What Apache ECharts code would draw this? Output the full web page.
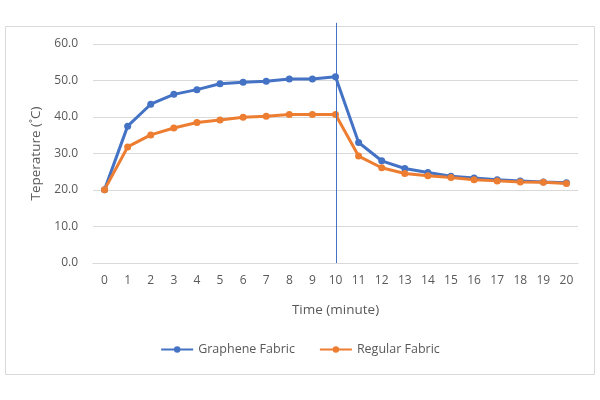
<!DOCTYPE html>
<html><head><meta charset="utf-8">
<script src="https://cdn.jsdelivr.net/npm/echarts@6/dist/echarts.min.js"></script>
<style>html,body{margin:0;padding:0;background:#fff}#c{width:600px;height:400px}</style>
</head><body><div id="c"></div>
<script>
const categories = ['0','1','2','3','4','5','6','7','8','9','10','11','12','13','14','15','16','17','18','19','20'];
const grapheneFabric = [20.1,37.5,43.5,46.2,47.5,49.1,49.5,49.8,50.4,50.4,51.0,33.0,28.0,25.9,24.8,23.8,23.3,22.8,22.5,22.2,22.0];
const regularFabric = [20.1,31.8,35.1,37.0,38.5,39.2,39.9,40.2,40.7,40.7,40.7,29.3,26.1,24.5,23.9,23.4,22.8,22.5,22.2,22.1,21.8];
const markerCategory = '10';
const markerTopValue = 65.8;

const font = '"Open Sans", Lato, sans-serif';
const txt = '#595959';
const chart = echarts.init(document.getElementById('c'));
const option = {
  animation: false,
  textStyle: {fontFamily: font},
  grid: {left: 93, right: 22, top: 44, bottom: 137, containLabel: false},
  legend: {
    bottom: 39, left: 'center', itemWidth: 32, itemHeight: 8, itemGap: 24,
    textStyle: {color: txt, fontSize: 12.5, fontFamily: font},
    data: ['Graphene Fabric', 'Regular Fabric']
  },
  xAxis: {
    type: 'category', data: categories, boundaryGap: true,
    name: 'Time (minute)', nameLocation: 'middle', nameGap: 40,
    nameTextStyle: {color: txt, fontSize: 13.5, fontFamily: font},
    axisLine: {lineStyle: {color: '#d9d9d9'}}, axisTick: {show: false},
    axisLabel: {color: txt, fontSize: 12, margin: 12, fontFamily: font, interval: 0}
  },
  yAxis: {
    type: 'value', min: 0, max: 60, interval: 10,
    name: 'Teperature (˚C)', nameLocation: 'middle', nameGap: 50,
    nameTextStyle: {color: txt, fontSize: 13.5, fontFamily: font},
    axisLine: {show: false}, axisTick: {show: false},
    axisLabel: {color: txt, fontSize: 12, margin: 15, fontFamily: font, formatter: v => v.toFixed(1)},
    splitLine: {lineStyle: {color: '#d9d9d9'}}
  },
  series: [
    {name: 'Graphene Fabric', type: 'line', data: grapheneFabric, symbol: 'circle', symbolSize: 7,
     itemStyle: {color: '#4472C4'}, lineStyle: {width: 3, color: '#4472C4'}},
    {name: 'Regular Fabric', type: 'line', data: regularFabric, symbol: 'circle', symbolSize: 7,
     itemStyle: {color: '#ED7D31'}, lineStyle: {width: 3, color: '#ED7D31'}}
  ]
};
chart.setOption(option);
const px = chart.convertToPixel({xAxisIndex: 0}, markerCategory);
const yTop = chart.convertToPixel({yAxisIndex: 0}, markerTopValue);
const yBot = chart.convertToPixel({yAxisIndex: 0}, 0);
chart.setOption({
  graphic: [
    {type: 'rect', z: -10, silent: true, shape: {x: 5.5, y: 26.5, width: 589, height: 348},
     style: {fill: 'none', stroke: '#d9d9d9', lineWidth: 1}},
    {type: 'line', z: 10, silent: true, shape: {x1: Math.round(px) + 0.5, y1: yTop, x2: Math.round(px) + 0.5, y2: yBot},
     style: {stroke: '#4472C4', lineWidth: 1}}
  ]
});
</script></body></html>
